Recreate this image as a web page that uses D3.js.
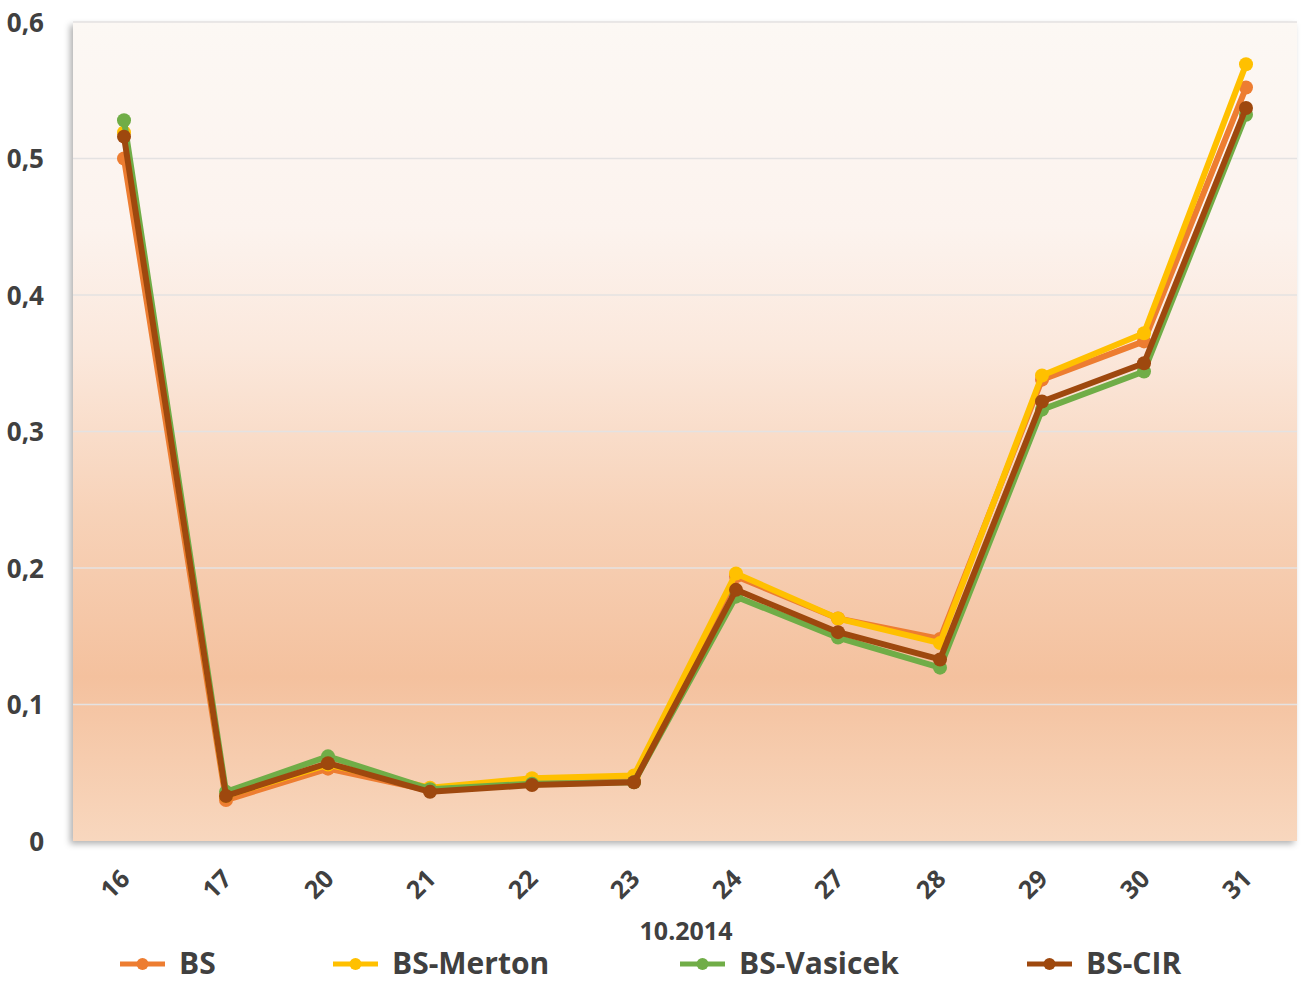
<!DOCTYPE html>
<html>
<head>
<meta charset="utf-8">
<script src="https://cdn.jsdelivr.net/npm/d3@7"></script>
<style>
  html, body { margin: 0; padding: 0; background: #ffffff; }
  svg { display: block; font-family: "Open Sans", sans-serif; }
</style>
</head>
<body>
<svg id="chart" width="1301" height="983"></svg>
<script>
// Trading days of October 2014
const days = ["16", "17", "20", "21", "22", "23", "24", "27", "28", "29", "30", "31"];

// Model values per day
const bs      = [0.500, 0.030, 0.053, 0.037, 0.042, 0.044, 0.194, 0.163, 0.148, 0.338, 0.366, 0.552];
const merton  = [0.519, 0.033, 0.056, 0.039, 0.046, 0.048, 0.196, 0.163, 0.145, 0.341, 0.372, 0.569];
const vasicek = [0.528, 0.036, 0.062, 0.038, 0.042, 0.043, 0.179, 0.149, 0.127, 0.316, 0.344, 0.532];
const cir     = [0.516, 0.033, 0.057, 0.036, 0.041, 0.043, 0.184, 0.153, 0.133, 0.322, 0.350, 0.537];

const seriesNames  = ["BS", "BS-Merton", "BS-Vasicek", "BS-CIR"];
const seriesColors = ["#ed7d31", "#ffc000", "#70ad47", "#9e480e"];
const yTicks = [0, 0.1, 0.2, 0.3, 0.4, 0.5, 0.6];
const axisTitle = "10.2014";

const series = [bs, merton, vasicek, cir].map((values, i) => ({
  name: seriesNames[i], color: seriesColors[i], values
}));

const svg = d3.select("#chart");
const plot = { left: 73, top: 22, right: 1297, bottom: 841 };
const textColor = "#404040";

const x = d3.scaleBand().domain(days).range([plot.left, plot.right]);
const y = d3.scaleLinear().domain([0, 0.6]).range([plot.bottom, plot.top]);

const defs = svg.append("defs");
const grad = defs.append("linearGradient")
  .attr("id", "bg").attr("x1", 0).attr("y1", 0).attr("x2", 0).attr("y2", 1);
[
  [0.00, "#fcf8f4"],
  [0.25, "#fcf3ee"],
  [0.40, "#fbe8dc"],
  [0.60, "#f7d2b8"],
  [0.80, "#f4c19e"],
  [1.00, "#f8d7be"]
].forEach(([o, c]) => grad.append("stop").attr("offset", o).attr("stop-color", c));

const shadow = defs.append("filter").attr("id", "shadow")
  .attr("x", "-5%").attr("y", "-5%").attr("width", "110%").attr("height", "110%");
shadow.append("feDropShadow")
  .attr("dx", -3).attr("dy", 3).attr("stdDeviation", 3)
  .attr("flood-color", "#000").attr("flood-opacity", 0.3);

// Plot area
svg.append("rect")
  .attr("x", plot.left).attr("y", plot.top)
  .attr("width", plot.right - plot.left).attr("height", plot.bottom - plot.top)
  .attr("fill", "url(#bg)")
  .attr("filter", "url(#shadow)");

// Horizontal gridlines
svg.append("g")
  .selectAll("line")
  .data(yTicks.filter(d => d > 0))
  .join("line")
  .attr("x1", plot.left).attr("x2", plot.right)
  .attr("y1", d => y(d)).attr("y2", d => y(d))
  .attr("stroke", "#e4e2e2").attr("stroke-width", 1.5);

// Y axis labels
const fmt = d => d === 0 ? "0" : d3.format(".1f")(d).replace(".", ",");
svg.append("g")
  .attr("transform", `translate(${plot.left - 26},0)`)
  .call(d3.axisLeft(y).tickValues(yTicks).tickFormat(fmt).tickSize(0))
  .call(g => g.select(".domain").remove())
  .call(g => g.selectAll("text")
    .attr("fill", textColor)
    .attr("font-size", 26)
    .attr("font-weight", "bold")
    .attr("font-family", "Open Sans, sans-serif")
    .attr("dy", "0.35em"));

// X axis labels, rotated
svg.append("g")
  .attr("transform", `translate(0,${plot.bottom})`)
  .call(d3.axisBottom(x).tickSize(0))
  .call(g => g.select(".domain").remove())
  .call(g => g.selectAll("text")
    .attr("fill", textColor)
    .attr("font-size", 25)
    .attr("font-weight", "bold")
    .attr("font-family", "Open Sans, sans-serif")
    .attr("text-anchor", "end")
    .attr("transform", "translate(-1,31) rotate(-45)")
    .attr("dy", "0.35em"));

// Axis title
svg.append("text")
  .attr("x", 686).attr("y", 940)
  .attr("text-anchor", "middle")
  .attr("fill", textColor)
  .attr("font-size", 25)
  .attr("font-weight", "bold")
  .text(axisTitle);

// Series lines and markers
const line = d3.line()
  .x((d, i) => x(days[i]) + x.bandwidth() / 2)
  .y(d => y(d));

const sg = svg.append("g").selectAll("g").data(series).join("g");
sg.append("path")
  .attr("d", d => line(d.values))
  .attr("fill", "none")
  .attr("stroke", d => d.color)
  .attr("stroke-width", 6)
  .attr("stroke-linejoin", "round")
  .attr("stroke-linecap", "round");
sg.each(function (s) {
  d3.select(this).selectAll("circle")
    .data(s.values)
    .join("circle")
    .attr("cx", (d, i) => x(days[i]) + x.bandwidth() / 2)
    .attr("cy", d => y(d))
    .attr("r", 7)
    .attr("fill", s.color);
});

// Legend
const legendX = [120, 333, 680, 1027];
const lg = svg.append("g").selectAll("g").data(series).join("g")
  .attr("transform", (d, i) => `translate(${legendX[i]},964)`);
lg.append("line")
  .attr("x1", 0).attr("x2", 45)
  .attr("stroke", d => d.color).attr("stroke-width", 5);
lg.append("circle").attr("cx", 22.5).attr("r", 6).attr("fill", d => d.color);
lg.append("text")
  .attr("x", 59).attr("dy", "0.34em")
  .attr("fill", textColor)
  .attr("font-size", 30)
  .attr("font-weight", "bold")
  .text(d => d.name);
</script>
</body>
</html>
